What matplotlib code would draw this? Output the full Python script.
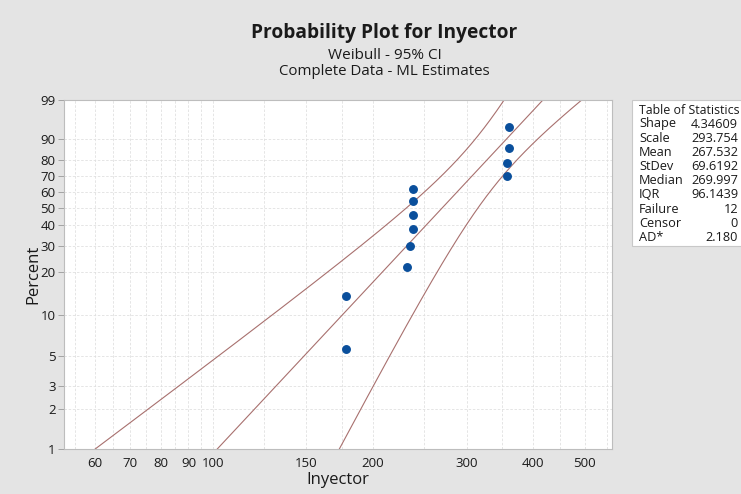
import numpy as np
import matplotlib
matplotlib.use('Agg')
import matplotlib.pyplot as plt
from matplotlib.patches import Rectangle

plt.rcParams['font.family'] = ['Open Sans', 'DejaVu Sans']

# data
inyector = [178, 178, 232, 235, 238, 238, 238, 238, 357, 358, 360, 360]
shape = 4.34609
scale = 293.754

x_ticks = [60, 70, 80, 90, 100, 150, 200, 300, 400, 500]
x_grid = [55, 60, 65, 70, 75, 80, 85, 90, 95, 100, 125, 150, 175, 200,
          250, 300, 350, 400, 450, 500, 550]
y_ticks = [1, 2, 3, 5, 10, 20, 30, 40, 50, 60, 70, 80, 90, 99]

stat_names = ['Shape', 'Scale', 'Mean', 'StDev', 'Median', 'IQR',
              'Failure', 'Censor', 'AD*']
stat_values = ['4.34609', '293.754', '267.532', '69.6192', '269.997',
               '96.1439', '12', '0', '2.180']

line_col = '#a8706e'
dot_col = '#0a4f9c'
txt_col = '#1a1a1a'
bg = '#e4e4e4'


def fwd(p):
    p = np.clip(np.asarray(p, dtype=float), 1e-6, 100 - 1e-6)
    return np.log(-np.log(1 - p / 100.0))


def inv(y):
    return 100.0 * (1 - np.exp(-np.exp(y)))


# median ranks
n = len(inyector)
ranks = (np.arange(1, n + 1) - 0.3) / (n + 0.4) * 100

# confidence bounds from observed information of the ML fit
mu = np.log(scale)
sig = 1.0 / shape
logx = np.log(np.array(inyector, dtype=float))


def loglik(m, s):
    z = (logx - m) / s
    return np.sum(-np.log(s) + z - np.exp(z))


h = 1e-4
f0 = loglik(mu, sig)
d_mm = (loglik(mu + h, sig) - 2 * f0 + loglik(mu - h, sig)) / h ** 2
d_ss = (loglik(mu, sig + h) - 2 * f0 + loglik(mu, sig - h)) / h ** 2
d_ms = (loglik(mu + h, sig + h) - loglik(mu + h, sig - h)
        - loglik(mu - h, sig + h) + loglik(mu - h, sig - h)) / (4 * h ** 2)
cov = np.linalg.inv(-np.array([[d_mm, d_ms], [d_ms, d_ss]]))

pp = np.linspace(1, 99, 400)
yp = fwd(pp)
lx = mu + sig * yp
sd = np.sqrt(cov[0, 0] + 2 * yp * cov[0, 1] + yp ** 2 * cov[1, 1])
fit = np.exp(lx)
lo = np.exp(lx - 1.96 * sd)
hi = np.exp(lx + 1.96 * sd)

fig = plt.figure(figsize=(7.41, 4.94), dpi=100, facecolor=bg)
ax = fig.add_axes([64 / 741, 1 - 449 / 494, 548 / 741, 349 / 494])
ax.set_facecolor('white')
ax.set_xscale('log')
ax.set_yscale('function', functions=(fwd, inv))
ax.set_xlim(52.5, 563)
ax.set_ylim(1, 99)

for g in x_grid:
    ax.axvline(g, color='#e0e0e0', lw=0.6, ls=(0, (3, 2)), zorder=0)
for g in y_ticks:
    ax.axhline(g, color='#e0e0e0', lw=0.6, ls=(0, (3, 2)), zorder=0)

ax.plot(fit, pp, color=line_col, lw=0.8)
ax.plot(lo, pp, color=line_col, lw=0.8)
ax.plot(hi, pp, color=line_col, lw=0.8)
ax.plot(inyector, ranks, 'o', color=dot_col, ms=5.4, zorder=3)

ax.set_xticks(x_ticks)
ax.set_xticklabels([str(v) for v in x_ticks])
ax.xaxis.set_minor_locator(plt.NullLocator())
ax.set_yticks(y_ticks)
ax.set_yticklabels([str(v) for v in y_ticks])
ax.yaxis.set_minor_locator(plt.NullLocator())
ax.tick_params(labelsize=9.5, colors=txt_col, length=4, width=0.6, pad=2)
ax.tick_params(axis='y', color='#999999')
ax.tick_params(axis='x', length=0, pad=6)
for s in ax.spines.values():
    s.set_color('#bdbdbd')
    s.set_linewidth(0.8)

ax.set_xlabel('Inyector', fontsize=12, labelpad=1, color=txt_col)
ax.set_ylabel('Percent', fontsize=12, color=txt_col)
ax.yaxis.set_label_coords(-0.042, 0.5)

fig.text(0.519, 1 - 38 / 494, 'Probability Plot for Inyector', ha='center',
         va='baseline', fontsize=13.8, fontweight='bold', color=txt_col)
fig.text(0.519, 1 - 59 / 494, 'Weibull - 95% CI', ha='center',
         va='baseline', fontsize=11, color=txt_col)
fig.text(0.519, 1 - 75 / 494, 'Complete Data - ML Estimates', ha='center',
         va='baseline', fontsize=10.8, color=txt_col)

# table of statistics
fig.patches.append(Rectangle((632 / 741, 1 - 246 / 494), 120 / 741, 146 / 494,
                             transform=fig.transFigure, facecolor='white',
                             edgecolor='#c8c8c8', lw=0.8))
fig.text(639 / 741, 1 - 110 / 494, 'Table of Statistics', ha='left',
         va='center', fontsize=8.9, color=txt_col)
for i, (nm, val) in enumerate(zip(stat_names, stat_values)):
    y = 1 - (124 + i * 14.2) / 494
    fig.text(639 / 741, y, nm, ha='left', va='center', fontsize=9.2,
             color=txt_col)
    fig.text(738 / 741, y, val, ha='right', va='center', fontsize=9.2,
             color=txt_col)

fig.savefig('out.png', dpi=100, facecolor=bg)
